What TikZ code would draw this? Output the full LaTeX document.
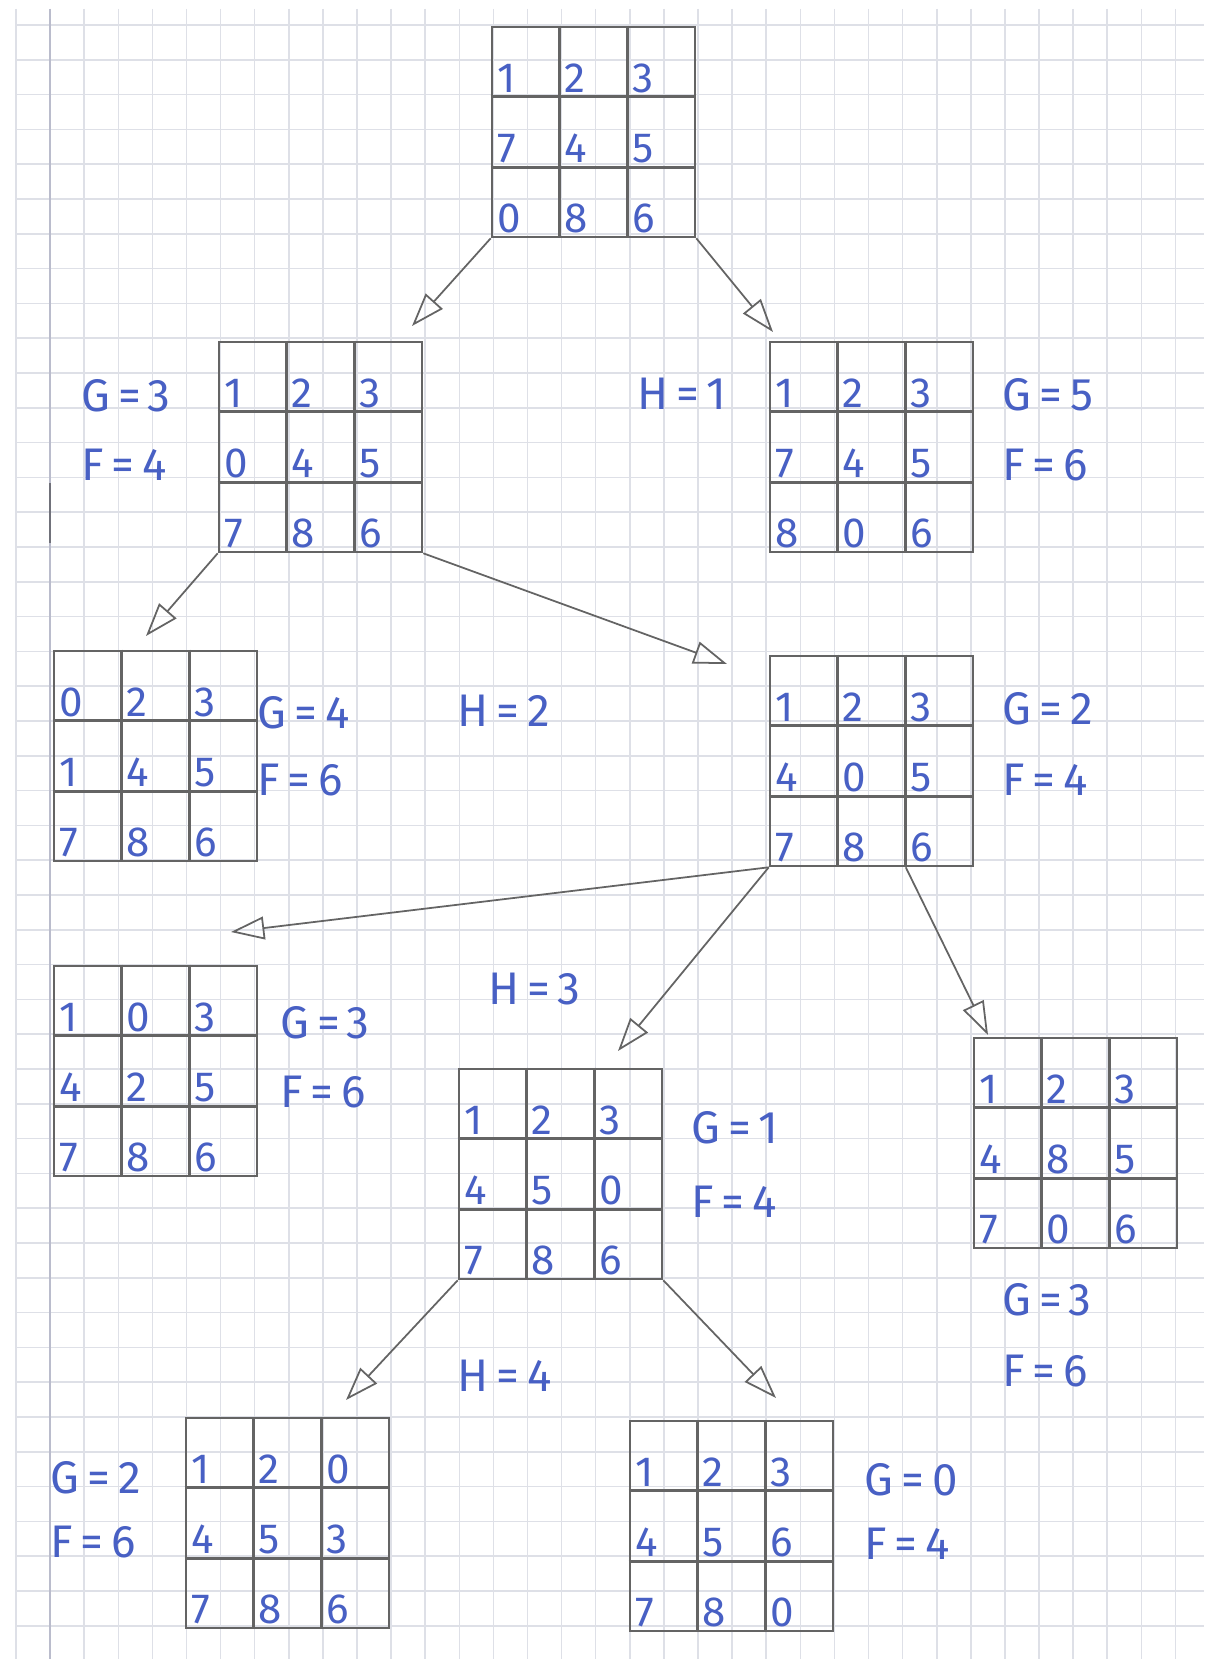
\documentclass[tikz,border=0pt]{standalone}
\usepackage{fontspec}
\setmainfont{Fira Sans}
\newfontfamily\handfont[LetterSpace=18]{Fira Sans}
\usetikzlibrary{arrows.meta,calc,positioning}

\definecolor{pencil}{RGB}{100,100,100}
\definecolor{ink}{RGB}{72,96,196}
\definecolor{squared}{RGB}{222,224,231}
\definecolor{margin}{RGB}{186,188,204}

\tikzset{
  board/.style={draw=pencil, line width=1.5pt, minimum width=4.06cm, minimum height=4.2cm, inner sep=0pt},
  cellline/.style={pencil, line width=1.5pt},
  digit/.style={ink, font=\fontsize{24}{24}\selectfont, inner sep=0pt, anchor=base west},
  cost/.style={ink, font=\handfont\fontsize{26}{26}\selectfont, inner sep=0pt, anchor=west},
  move/.style={draw=pencil, line width=1pt, -{Triangle[open, length=19pt, width=13pt]}},
}

% one 3x3 board: name, centre, nine digits row by row
\newcommand{\board}[3]{%
  \node[board] (#1) at (#2) {};
  \foreach \k in {1,2} {
    \draw[cellline] ($(#1.north west)!\k/3!(#1.north east)$) -- ($(#1.south west)!\k/3!(#1.south east)$);
    \draw[cellline] ($(#1.north west)!\k/3!(#1.south west)$) -- ($(#1.north east)!\k/3!(#1.south east)$);
  }
  \foreach \cellv [count=\cellno from 0] in {#3} {
    \pgfmathtruncatemacro{\brow}{\cellno/3}
    \pgfmathtruncatemacro{\bcol}{mod(\cellno,3)}
    \node[digit] at ($(#1.north west)+(\bcol*67.7+6,\brow*70+67)$) {\cellv};
  }
}

\begin{document}
\begin{tikzpicture}[x=0.02cm, y=-0.02cm]
    % squared paper
    \fill[white] (0,0) rectangle (1204,1659);
    \useasboundingbox (0,0) rectangle (1204,1659);
    \foreach \i in {0,...,34}
        \draw[squared, line width=0.9pt] ({16+34.1*\i},9) -- ({16+34.1*\i},1659);
    \foreach \j in {0,...,47}
        \draw[squared, line width=0.9pt] (17,{25+34.8*\j}) -- (1204,{25+34.8*\j});
    \draw[margin, line width=1pt] (50,9) -- (50,1659);
    \draw[margin!60!black, line width=1pt] (50,483) -- (50,543);

    % boards
    \board{n0}{593.5,132}{1,2,3,7,4,5,0,8,6}
    \board{n1l}{320.5,447}{1,2,3,0,4,5,7,8,6}
    \board{n1r}{871.5,447}{1,2,3,7,4,5,8,0,6}
    \board{n2l}{155.5,756}{0,2,3,1,4,5,7,8,6}
    \board{n2r}{871.5,761}{1,2,3,4,0,5,7,8,6}
    \board{n3l}{155.5,1071}{1,0,3,4,2,5,7,8,6}
    \board{n3m}{560.5,1174}{1,2,3,4,5,0,7,8,6}
    \board{n3r}{1075.5,1143}{1,2,3,4,8,5,7,0,6}
    \board{n4l}{287.5,1523}{1,2,0,4,5,3,7,8,6}
    \board{n4r}{731.5,1526}{1,2,3,4,5,6,7,8,0}

    % costs
    \node[cost] (g1l) at (81,396) {G=3};
    \node[cost] (f1l) at (81,465) {F=4};
    \node[cost] (h1) at (637,394) {H=1};
    \node[cost] (g1r) at (1002,395) {G=5};
    \node[cost] (f1r) at (1002,465) {F=6};
    \node[cost] (g2l) at (257,713) {G=4};
    \node[cost] (f2l) at (257,780) {F=6};
    \node[cost] (h2) at (457,711) {H=2};
    \node[cost] (g2r) at (1002,709) {G=2};
    \node[cost] (f2r) at (1002,780) {F=4};
    \node[cost] (g3l) at (280,1023) {G=3};
    \node[cost] (f3l) at (280,1092) {F=6};
    \node[cost] (h3) at (488,989) {H=3};
    \node[cost] (g3m) at (691,1128) {G=1};
    \node[cost] (f3m) at (691,1202) {F=4};
    \node[cost] (g3r) at (1002,1300) {G=3};
    \node[cost] (f3r) at (1002,1371) {F=6};
    \node[cost] (h4) at (457,1376) {H=4};
    \node[cost] (g4l) at (50,1478) {G=2};
    \node[cost] (f4l) at (50,1542) {F=6};
    \node[cost] (g4r) at (864,1480) {G=0};
    \node[cost] (f4r) at (864,1544) {F=4};

    % moves
    \coordinate (t1) at (412,326);
    \coordinate (t2) at (773,332);
    \coordinate (t3) at (146,636);
    \coordinate (t4) at (727,664);
    \coordinate (t5) at (231,932);
    \coordinate (t6) at (618,1051);
    \coordinate (t7) at (988,1035);
    \coordinate (t8) at (346,1400);
    \coordinate (t9) at (776,1398);
    \draw[move] (n0.south west) -- (t1);
    \draw[move] (n0.south east) -- (t2);
    \draw[move] (n1l.south west) -- (t3);
    \draw[move] (n1l.south east) -- (t4);
    \draw[move] (n2r.south west) -- (t5);
    \draw[move] (n2r.south west) -- (t6);
    \draw[move] ($(n2r.south west)!2/3!(n2r.south east)$) -- (t7);
    \draw[move] (n3m.south west) -- (t8);
    \draw[move] (n3m.south east) -- (t9);
\end{tikzpicture}
\end{document}
